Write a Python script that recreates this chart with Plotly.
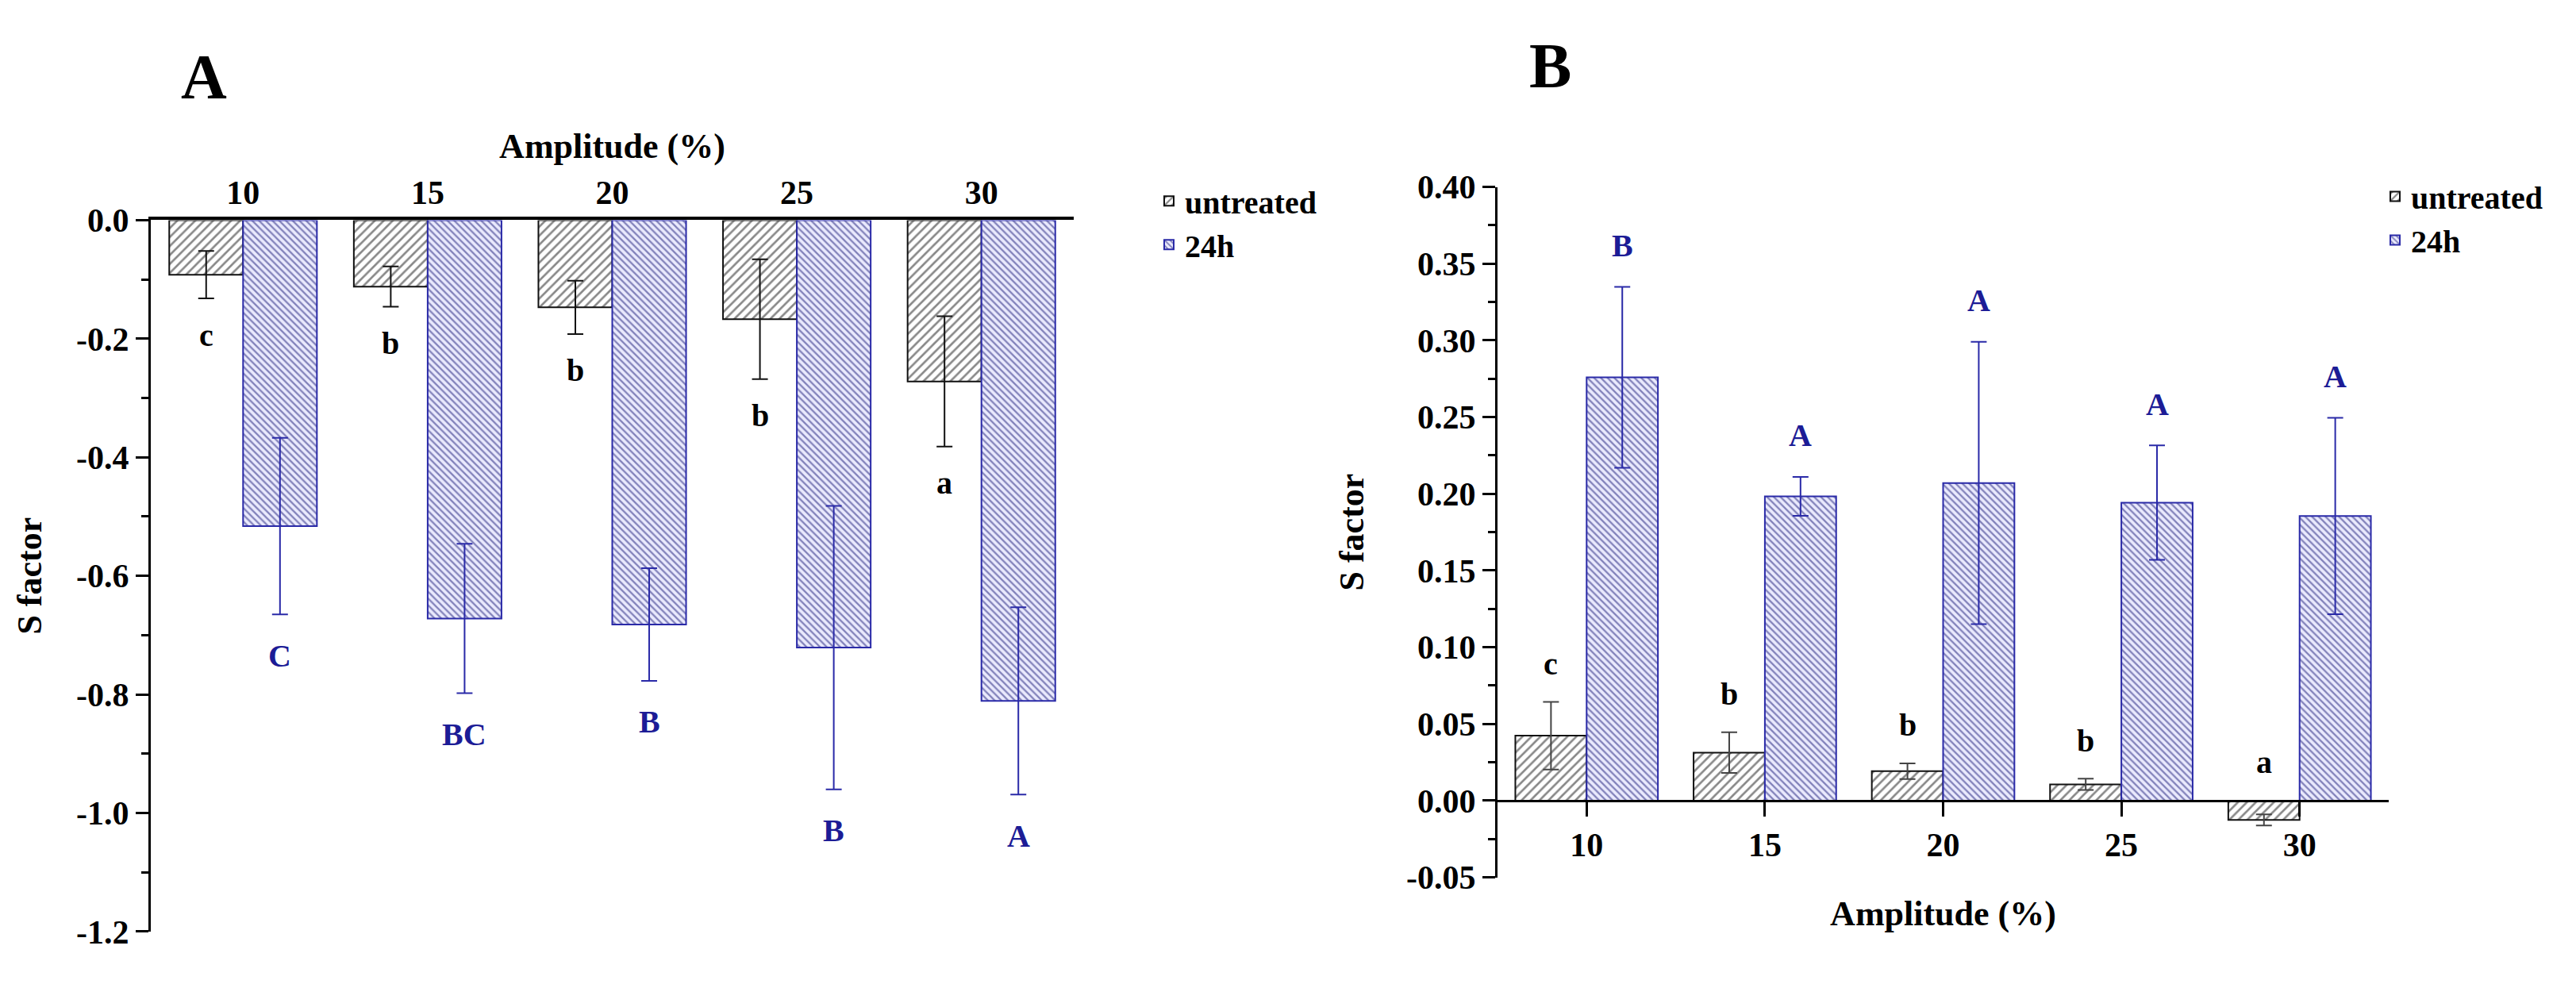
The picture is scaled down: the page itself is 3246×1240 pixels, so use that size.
import plotly.graph_objects as go

# ---------------- data ----------------
amplitude = ["10", "15", "20", "25", "30"]

# Panel A
a_untreated = [-0.092, -0.112, -0.147, -0.167, -0.272]
a_untreated_err = [0.040, 0.034, 0.045, 0.101, 0.110]
a_24h = [-0.516, -0.672, -0.682, -0.721, -0.811]
a_24h_err = [0.149, 0.126, 0.095, 0.239, 0.158]
a_untreated_letters = ["c", "b", "b", "b", "a"]
a_24h_letters = ["C", "BC", "B", "B", "A"]
a_tickvals = [0.0, -0.2, -0.4, -0.6, -0.8, -1.0, -1.2]
a_ticktext = ["0.0", "-0.2", "-0.4", "-0.6", "-0.8", "-1.0", "-1.2"]

# Panel B
b_untreated = [0.0423, 0.0313, 0.0192, 0.0106, -0.0126]
b_untreated_err = [0.0220, 0.0132, 0.0051, 0.0037, 0.0036]
b_24h = [0.2759, 0.1983, 0.2070, 0.1942, 0.1855]
b_24h_err = [0.0590, 0.0127, 0.0920, 0.0373, 0.0640]
b_untreated_letters = ["c", "b", "b", "b", "a"]
b_24h_letters = ["B", "A", "A", "A", "A"]
b_tickvals = [-0.05, 0.0, 0.05, 0.10, 0.15, 0.20, 0.25, 0.30, 0.35, 0.40]
b_ticktext = ["-0.05", "0.00", "0.05", "0.10", "0.15", "0.20", "0.25", "0.30", "0.35", "0.40"]

series_names = ["untreated", "24h"]

# ---------------- styling ----------------
FONT = "Liberation Serif"
BLACK = "#000000"
NAVY = "#1c1c96"
NAVY_LINE = "#2a2aa8"
W, H = 3246, 1240

untreated_marker = dict(
    color="white",
    line=dict(color="#111111", width=2),
    pattern=dict(shape="/", fgcolor="#111111", bgcolor="white", size=8, solidity=0.33),
)
h24_marker = dict(
    color="#e6e6fb",
    line=dict(color=NAVY_LINE, width=2),
    pattern=dict(shape="\\", fgcolor="#1a1a78", bgcolor="#eaeafd", size=6, solidity=0.38),
)

fig = go.Figure()

# Panel A traces
fig.add_trace(go.Bar(
    x=amplitude, y=a_untreated, name=series_names[0], marker=untreated_marker,
    error_y=dict(type="data", array=a_untreated_err, color="#111111", thickness=2, width=10),
    xaxis="x", yaxis="y", legend="legend",
))
fig.add_trace(go.Bar(
    x=amplitude, y=a_24h, name=series_names[1], marker=h24_marker,
    error_y=dict(type="data", array=a_24h_err, color=NAVY_LINE, thickness=2, width=10),
    xaxis="x", yaxis="y", legend="legend",
))

# Panel B traces
fig.add_trace(go.Bar(
    x=amplitude, y=b_untreated, name=series_names[0], marker=untreated_marker,
    error_y=dict(type="data", array=b_untreated_err, color="#444444", thickness=2, width=10),
    xaxis="x2", yaxis="y2", legend="legend2",
))
fig.add_trace(go.Bar(
    x=amplitude, y=b_24h, name=series_names[1], marker=h24_marker,
    error_y=dict(type="data", array=b_24h_err, color=NAVY_LINE, thickness=2, width=10),
    xaxis="x2", yaxis="y2", legend="legend2",
))

# ---------------- domains ----------------
ax_dom = [182 / W, 1345 / W]
ay_dom = [1 - 1188 / H, 1 - 257 / H]
bx_dom = [1879 / W, 3002 / W]
by_dom = [1 - 1117 / H, 1 - 213.5 / H]
b_range = [-0.05, 0.40]
b_zero_pos = by_dom[0] + (0 - b_range[0]) / (b_range[1] - b_range[0]) * (by_dom[1] - by_dom[0])

tickfont = dict(family=FONT, size=42, color=BLACK, weight="bold")
titlefont = dict(family=FONT, size=44, color=BLACK, weight="bold")

fig.update_layout(
    width=W, height=H, autosize=False,
    margin=dict(l=0, r=0, t=0, b=0),
    paper_bgcolor="white", plot_bgcolor="white",
    barmode="group", bargap=0.2, bargroupgap=0.0,
    font=dict(family=FONT, color=BLACK, weight="bold"),
    xaxis=dict(
        domain=ax_dom, anchor="y", side="top", type="category",
        range=[-0.5, 4.5], showline=True, linecolor=BLACK, linewidth=4,
        ticks="", showgrid=False, zeroline=False, tickfont=tickfont,
        title=dict(text="Amplitude (%)", font=titlefont, standoff=7),
    ),
    yaxis=dict(
        domain=ay_dom, anchor="x", range=[-1.2, 0.0],
        tickmode="array", tickvals=a_tickvals, ticktext=a_ticktext,
        showline=True, linecolor=BLACK, linewidth=3, ticks="outside",
        ticklen=16, tickwidth=3, tickcolor=BLACK,
        minor=dict(dtick=0.1, tick0=0, ticks="outside", ticklen=9, tickwidth=3, tickcolor=BLACK, showgrid=False),
        showgrid=False, zeroline=False, tickfont=tickfont,
        title=dict(text="S factor", font=titlefont, standoff=30),
    ),
    xaxis2=dict(
        domain=bx_dom, anchor="free", position=b_zero_pos, type="category",
        range=[-0.5, 4.5], showline=True, linecolor=BLACK, linewidth=3,
        ticks="outside", ticklen=18, tickwidth=2.5, tickcolor=BLACK,
        showgrid=False, zeroline=False, tickfont=tickfont,
        title=dict(text="Amplitude (%)", font=titlefont, standoff=47),
    ),
    yaxis2=dict(
        domain=by_dom, anchor="x2", range=b_range,
        tickmode="array", tickvals=b_tickvals, ticktext=b_ticktext,
        showline=True, linecolor=BLACK, linewidth=3, ticks="outside",
        ticklen=16, tickwidth=3, tickcolor=BLACK,
        minor=dict(dtick=0.025, tick0=0, ticks="outside", ticklen=9, tickwidth=3, tickcolor=BLACK, showgrid=False),
        showgrid=False, zeroline=False, tickfont=tickfont,
        title=dict(text="S factor", font=titlefont, standoff=40),
    ),
    legend=dict(
        x=1445 / W, y=1 - 198 / H, xanchor="left", yanchor="top",
        font=dict(family=FONT, size=40, color=BLACK, weight="bold"),
        bgcolor="rgba(0,0,0,0)", tracegroupgap=0,
    ),
    legend2=dict(
        x=2990 / W, y=1 - 192 / H, xanchor="left", yanchor="top",
        font=dict(family=FONT, size=40, color=BLACK, weight="bold"),
        bgcolor="rgba(0,0,0,0)", tracegroupgap=0,
    ),
    showlegend=True,
)

# ---------------- significance letters ----------------
letter_font_black = dict(family=FONT, size=40, color=BLACK, weight="bold")
letter_font_blue = dict(family=FONT, size=40, color=NAVY, weight="bold")
annotations = []
for i in range(len(amplitude)):
    annotations.append(dict(
        x=i - 0.2, y=a_untreated[i] - a_untreated_err[i], xref="x", yref="y",
        text=a_untreated_letters[i], showarrow=False, yshift=-46,
        font=letter_font_black, yanchor="middle",
    ))
    annotations.append(dict(
        x=i + 0.2, y=a_24h[i] - a_24h_err[i], xref="x", yref="y",
        text=a_24h_letters[i], showarrow=False, yshift=-52,
        font=letter_font_blue, yanchor="middle",
    ))
    annotations.append(dict(
        x=i - 0.2, y=max(b_untreated[i] + b_untreated_err[i], 0.0), xref="x2", yref="y2",
        text=b_untreated_letters[i], showarrow=False, yshift=48,
        font=letter_font_black, yanchor="middle",
    ))
    annotations.append(dict(
        x=i + 0.2, y=b_24h[i] + b_24h_err[i], xref="x2", yref="y2",
        text=b_24h_letters[i], showarrow=False, yshift=52,
        font=letter_font_blue, yanchor="middle",
    ))

# panel labels
annotations.append(dict(x=249 / W, y=1 - 70 / H, xref="paper", yref="paper", text="A",
                        showarrow=False, xanchor="center", yanchor="middle",
                        font=dict(family=FONT, size=80, color=BLACK, weight="bold")))
annotations.append(dict(x=1945 / W, y=1 - 55 / H, xref="paper", yref="paper", text="B",
                        showarrow=False, xanchor="center", yanchor="middle",
                        font=dict(family=FONT, size=80, color=BLACK, weight="bold")))

fig.update_layout(annotations=annotations)

fig.write_html("out.html")
